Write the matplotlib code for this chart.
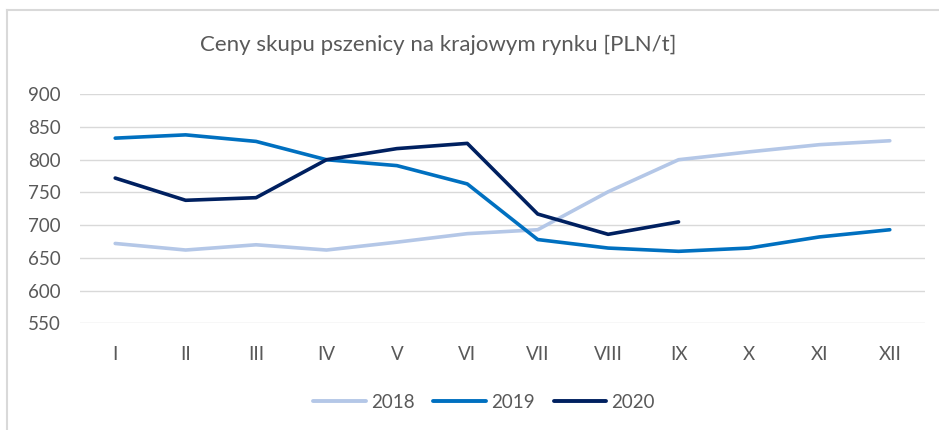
import matplotlib
matplotlib.use("Agg")
import matplotlib.pyplot as plt
from matplotlib.lines import Line2D

months = ["I", "II", "III", "IV", "V", "VI", "VII", "VIII", "IX", "X", "XI", "XII"]
series_names = ["2018", "2019", "2020"]
v2018 = [672, 662, 670, 662, 674, 687, 693, 751, 800, 812, 823, 829]
v2019 = [833, 838, 828, 800, 791, 763, 678, 665, 660, 665, 682, 693]
v2020 = [772, 738, 742, 800, 817, 825, 717, 686, 705]
colors = ["#b4c7e7", "#0070c0", "#002060"]
title = "Ceny skupu pszenicy na krajowym rynku [PLN/t]"
yticks = [550, 600, 650, 700, 750, 800, 850, 900]

plt.rcParams['font.family'] = ['Lato', 'DejaVu Sans']
W, H = 939, 430
fig = plt.figure(figsize=(W / 100, H / 100), dpi=100)
ax = fig.add_axes([80 / W, 1 - 323.3 / H, (925 - 80) / W, (323.3 - 94.3) / H])

for vals, c, name in zip([v2018, v2019, v2020], colors, series_names):
    ax.plot(range(len(vals)), vals, color=c, lw=2.6, solid_capstyle='round',
            solid_joinstyle='round', label=name, zorder=3)

ax.set_xlim(-0.5, 11.5)
ax.set_ylim(550, 900)
ax.set_yticks(yticks)
ax.set_xticks(range(len(months)))
ax.set_xticklabels(months)
ax.grid(axis='y', color='#d9d9d9', lw=1)
ax.set_axisbelow(True)
for s in ax.spines.values():
    s.set_visible(False)
ax.tick_params(axis='both', length=0, colors='#595959', labelsize=13.5)
ax.tick_params(axis='x', pad=16)
ax.tick_params(axis='y', pad=14)
for t in ax.get_yticklabels() + ax.get_xticklabels():
    t.set_color('#595959')

fig.text(438.5 / W, 1 - 45 / H, title, ha='center', va='center', fontsize=16, color='#595959')

handles = [Line2D([0], [0], color=c, lw=2.8, solid_capstyle='round') for c in colors]
leg = fig.legend(handles, series_names, loc='center', bbox_to_anchor=(484 / W, 1 - 402 / H),
                 ncol=3, frameon=False, fontsize=13.5, handlelength=2.8, handletextpad=0.28,
                 columnspacing=1.0)
for t in leg.get_texts():
    t.set_color('#595959')

# chart frame (top and left visible)
fig.add_artist(Line2D([7 / W, 7 / W], [0, 1 - 10 / H], color='#d9d9d9', lw=1.5,
                      transform=fig.transFigure))
fig.add_artist(Line2D([7 / W, 1], [1 - 10 / H, 1 - 10 / H], color='#d9d9d9', lw=1.5,
                      transform=fig.transFigure))

fig.savefig("out.png", dpi=100)
